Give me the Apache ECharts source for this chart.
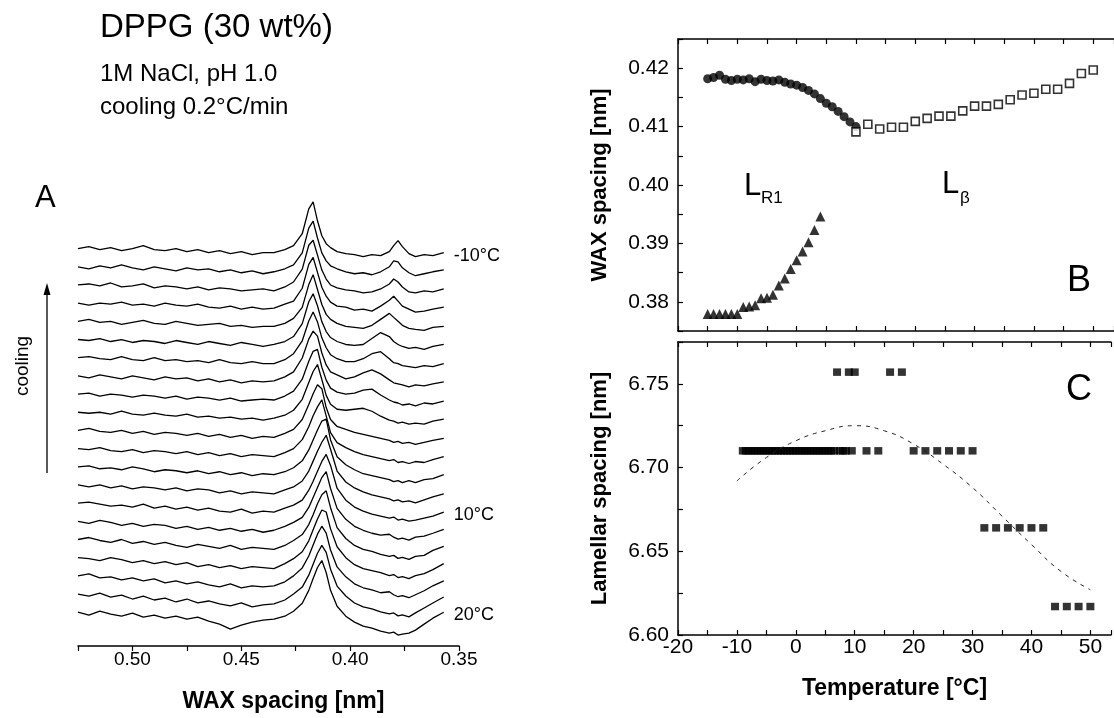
<!DOCTYPE html>
<html>
<head>
<meta charset="utf-8">
<title>DPPG (30 wt%)</title>
<script src="https://cdn.jsdelivr.net/npm/echarts@6/dist/echarts.min.js"></script>
<style>
  html, body { margin: 0; padding: 0; background: #fff; }
  #main { width: 1114px; height: 718px; }
</style>
</head>
<body>
<div id="main"></div>
<script>
const FONT = '"Liberation Sans", Arial, Helvetica, sans-serif';

// ---- panel A: WAXS traces (intensity above each trace's baseline, arbitrary units)
const waxSpacing = [0.525, 0.52, 0.515, 0.51, 0.505, 0.5, 0.495, 0.49, 0.485, 0.48,
  0.475, 0.47, 0.465, 0.46, 0.455, 0.45, 0.445, 0.44, 0.435, 0.43,
  0.426, 0.422, 0.419, 0.417, 0.415, 0.413, 0.411, 0.409, 0.406, 0.402,
  0.398, 0.394, 0.39, 0.386, 0.382, 0.38, 0.378, 0.376, 0.373, 0.37,
  0.366, 0.362, 0.357];

const traceLabels = ['-10°C', '', '', '', '', '', '', '', '', '', '', '', '', '',
  '10°C', '', '', '', '', '', '20°C'];

const traceProfiles = [
  [0, 2, -1, 1, -2, 0, 3, -1, -2, 0, -3, -1, -4, -2, -5, -3, -6, -4, -4, -1, 3, 15, 40, 47, 28, 13, 5, 1, -3, -5, -6, -8, -6, -7, -3, 3, 8, 2, -5, -8, -6, -7, -4],
  [0, -2, 1, -1, 2, -1, -3, 0, -2, -4, -1, -3, -2, -5, -3, -6, -4, -7, -5, -2, 2, 14, 39, 46, 29, 14, 6, 1, -2, -5, -7, -6, -8, -5, 0, 6, 5, -1, -6, -9, -7, -5, -3],
  [0, 1, -1, 2, -2, -1, 1, -3, -1, -2, -4, -2, -5, -3, -4, -6, -5, -4, -6, -2, 3, 16, 40, 45, 30, 15, 6, 0, -3, -5, -6, -8, -7, -4, 1, 6, 3, -2, -7, -8, -6, -7, -4],
  [0, -2, 0, -1, 1, -2, -1, -3, 0, -2, -3, -1, -4, -5, -3, -6, -4, -6, -5, -1, 2, 15, 39, 46, 31, 16, 7, 1, -3, -4, -7, -6, -8, -3, 3, 7, 2, -3, -6, -9, -8, -6, -4],
  [0, 2, -1, 0, -3, -1, 1, -2, -3, 0, -2, -4, -3, -2, -5, -4, -6, -5, -5, -2, 3, 14, 37, 47, 32, 17, 7, 2, -2, -5, -6, -7, -4, 2, 8, 4, 0, -4, -7, -8, -9, -6, -5],
  [0, -1, 1, -2, 0, -3, -1, -2, -4, -1, -3, -5, -2, -4, -6, -3, -5, -7, -5, -2, 3, 16, 38, 46, 34, 18, 8, 2, -2, -5, -6, -5, 1, 7, 3, -2, -5, -7, -9, -8, -10, -7, -5],
  [0, 1, -1, -2, 1, -2, -3, 0, -3, -2, -4, -3, -5, -2, -5, -6, -4, -6, -6, -2, 4, 17, 37, 46, 36, 20, 10, 3, -1, -4, -4, -1, 4, 6, -1, -5, -6, -8, -9, -10, -8, -9, -6],
  [0, -2, 1, -1, -3, 0, -2, -4, -1, -3, -2, -5, -3, -6, -4, -7, -5, -6, -5, -1, 4, 18, 37, 45, 40, 23, 11, 4, 1, -3, -1, 3, 6, 2, -4, -7, -8, -9, -11, -9, -10, -8, -6],
  [0, 1, -2, 0, -1, -3, -1, -2, -4, -2, -5, -3, -4, -6, -4, -7, -6, -5, -6, -2, 3, 15, 33, 43, 45, 27, 14, 6, 2, 0, 1, 4, 5, -1, -6, -8, -9, -11, -10, -12, -9, -10, -7],
  [0, -1, 0, -2, 1, -2, -3, -1, -3, -4, -2, -5, -4, -6, -5, -7, -6, -8, -6, -3, 2, 13, 30, 41, 48, 33, 17, 8, 3, 2, 3, 4, 1, -4, -8, -9, -11, -10, -12, -11, -12, -9, -7],
  [0, 2, -1, -2, 0, -3, -1, -4, -2, -3, -5, -3, -6, -4, -7, -5, -8, -6, -7, -3, 1, 11, 26, 37, 46, 42, 23, 11, 4, 1, -2, -4, -6, -8, -10, -12, -11, -13, -12, -14, -12, -10, -8],
  [0, -1, 1, -2, -3, -1, -4, -2, -3, -5, -3, -6, -4, -7, -5, -8, -6, -7, -8, -4, 0, 9, 22, 33, 42, 49, 33, 16, 6, 1, -3, -6, -8, -10, -12, -11, -14, -13, -15, -13, -14, -11, -8],
  [0, 1, -2, -1, -3, 0, -2, -5, -3, -4, -6, -4, -7, -5, -8, -6, -9, -7, -8, -5, -1, 6, 17, 27, 37, 46, 48, 27, 10, 2, -3, -7, -9, -11, -13, -15, -14, -16, -14, -16, -13, -12, -8],
  [0, -2, 0, -3, -1, -4, -2, -3, -5, -3, -6, -4, -5, -8, -6, -9, -7, -8, -9, -5, -2, 4, 14, 24, 34, 43, 50, 36, 14, 3, -3, -7, -10, -12, -14, -16, -15, -17, -16, -18, -15, -12, -9],
  [0, 1, -1, -3, -2, -4, -1, -5, -3, -6, -4, -7, -5, -8, -9, -6, -10, -8, -9, -5, -2, 3, 13, 22, 32, 42, 49, 38, 15, 3, -4, -8, -11, -13, -15, -14, -17, -16, -18, -17, -15, -13, -9],
  [0, -2, 1, -1, -4, -2, -5, -3, -4, -7, -5, -8, -6, -9, -7, -10, -8, -11, -9, -5, -1, 4, 14, 24, 34, 44, 50, 33, 13, 2, -5, -9, -12, -14, -13, -16, -18, -17, -19, -16, -15, -12, -8],
  [0, 2, -1, -3, 0, -4, -2, -5, -3, -6, -8, -5, -7, -9, -6, -10, -8, -9, -10, -6, -1, 5, 15, 25, 36, 45, 49, 32, 12, 1, -6, -10, -12, -15, -17, -16, -19, -18, -20, -17, -16, -11, -7],
  [0, -1, -3, 0, -2, -5, -3, -6, -4, -7, -5, -9, -7, -10, -8, -11, -9, -10, -11, -6, -1, 6, 17, 28, 39, 48, 46, 29, 11, 0, -7, -11, -13, -15, -18, -17, -20, -19, -21, -18, -16, -12, -6],
  [0, 2, -2, -1, -4, -2, -5, -3, -7, -5, -8, -6, -9, -11, -8, -12, -10, -11, -10, -6, 0, 8, 20, 31, 42, 50, 43, 26, 9, -1, -8, -12, -14, -17, -16, -19, -21, -20, -22, -19, -15, -10, -5],
  [0, -2, 1, -3, -1, -5, -2, -6, -4, -8, -5, -9, -7, -10, -12, -9, -13, -11, -10, -6, 0, 7, 19, 30, 41, 49, 42, 25, 8, -2, -9, -13, -15, -18, -20, -19, -22, -21, -23, -19, -14, -9, -3],
  [0, -3, 1, -2, -4, -1, -5, -3, -6, -4, -7, -5, -9, -12, -17, -13, -10, -8, -7, -4, 1, 9, 22, 34, 45, 52, 40, 22, 6, -4, -10, -14, -16, -19, -21, -20, -23, -22, -21, -18, -12, -6, 0]
];

// ---- panel B: WAX spacing vs temperature
const circleTemps = [-15, -14, -13, -12, -11, -10, -9, -8, -7, -6, -5, -4, -3, -2, -1, 0, 1, 2, 3, 4, 5, 6, 7, 8, 9, 10];
const circleSpacing = [0.4182, 0.4184, 0.4188, 0.4181, 0.4179, 0.4181, 0.4180, 0.4182, 0.4177, 0.4181, 0.4179, 0.4178, 0.4180,
  0.4176, 0.4173, 0.4171, 0.4167, 0.4162, 0.4156, 0.4148, 0.4140, 0.4134, 0.4126, 0.4117, 0.4108, 0.4100];

const triangleTemps = [-15, -14, -13, -12, -11, -10, -9, -8, -7, -6, -5, -4, -3, -2, -1, 0, 1, 2, 3, 4];
const triangleSpacing = [0.3779, 0.3779, 0.3779, 0.3779, 0.3779, 0.3779, 0.3791, 0.3792, 0.3794, 0.3806,
  0.3807, 0.3812, 0.3828, 0.3840, 0.3856, 0.3871, 0.3886, 0.3902, 0.3923, 0.3946];

const squareTemps = [10, 12, 14, 16, 18, 20, 22, 24, 26, 28, 30, 32, 34, 36, 38, 40, 42, 44, 46, 48, 50];
const squareSpacing = [0.4091, 0.4104, 0.4096, 0.4099, 0.4099, 0.4109, 0.4114, 0.4118, 0.4118, 0.4127, 0.4135,
  0.4135, 0.4138, 0.4146, 0.4154, 0.4157, 0.4164, 0.4164, 0.4174, 0.4191, 0.4197];

// ---- panel C: lamellar spacing vs temperature
const lamTemps = [-9, -8.5, -8, -7.5, -7, -6.5, -6, -5.5, -5, -4.5, -4, -3.5, -3, -2.5, -2, -1.5, -1, -0.5,
  0, 0.5, 1, 1.5, 2, 2.5, 3, 3.5, 4, 4.5, 5, 5.5, 6, 6.5, 7, 7.5, 8, 8.5, 9, 9.5, 10,
  12, 14, 16, 18, 20, 22, 24, 26, 28, 30, 32, 34, 36, 38, 40, 42, 44, 46, 48, 50];
const lamSpacing = [6.710, 6.710, 6.710, 6.710, 6.710, 6.710, 6.710, 6.710, 6.710, 6.710, 6.710, 6.710, 6.710, 6.710,
  6.710, 6.710, 6.710, 6.710, 6.710, 6.710, 6.710, 6.710, 6.710, 6.710, 6.710, 6.710, 6.710, 6.710, 6.710, 6.710,
  6.710, 6.710, 6.757, 6.710, 6.710, 6.710, 6.757, 6.710, 6.757,
  6.710, 6.710, 6.757, 6.757, 6.710, 6.710, 6.710, 6.710, 6.710, 6.710,
  6.664, 6.664, 6.664, 6.664, 6.664, 6.664, 6.617, 6.617, 6.617, 6.617];

const fitTemps = [-10, -5, 0, 5, 10, 15, 20, 25, 30, 35, 40, 45, 50];
const fitSpacing = [6.692, 6.706, 6.716, 6.722, 6.725, 6.722, 6.714, 6.702, 6.688, 6.671, 6.654, 6.638, 6.627];

// ---- helpers
const pairs = (xs, ys) => xs.map((x, k) => [x, ys[k]]);
const onStep = (step, digits) => (v) => {
  const r = v / step;
  return Math.abs(r - Math.round(r)) < 1e-6 ? v.toFixed(digits) : '';
};
const txt = (size, weight) => ({ color: '#000', fontFamily: FONT, fontSize: size, fontWeight: weight || 'normal' });
const label = (x, y, text, size, extra) => ({
  type: 'text', x: x, y: y,
  style: Object.assign({ text: text, align: 'left', verticalAlign: 'middle', fill: '#000', font: size + 'px ' + FONT }, extra)
});

const frame = (extra) => Object.assign({
  axisLine: { show: true, onZero: false, lineStyle: { color: '#000', width: 1.5 } },
  axisTick: { show: true, inside: true, length: 5, lineStyle: { color: '#000', width: 1.2 } },
  splitLine: { show: false }
}, extra);

const traceGap = 18.3, traceBase = 34;
const nTraces = traceProfiles.length;
const traceData = traceProfiles.map((prof, i) =>
  waxSpacing.map((d, k) => [d, traceBase + (nTraces - 1 - i) * traceGap + prof[k]]));

const traceSeries = traceData.map((data) => ({
  type: 'line',
  xAxisIndex: 0, yAxisIndex: 0,
  symbol: 'none', silent: true,
  lineStyle: { color: '#000', width: 1.3 },
  data: data
}));

const chart = echarts.init(document.getElementById('main'));
chart.setOption({
  animation: false,
  backgroundColor: '#fff',
  grid: [
    { left: 78, right: 655, top: 190, bottom: 69 },
    { left: 678, right: 0, top: 39, height: 292 },
    { left: 678, right: 0, top: 342, height: 293 }
  ],
  xAxis: [
    frame({
      gridIndex: 0, type: 'value', inverse: true, min: 0.35, max: 0.525, interval: 0.025,
      axisTick: { show: true, inside: false, length: 5, lineStyle: { color: '#000', width: 1.2 } },
      axisLabel: { margin: 4, formatter: onStep(0.05, 2), ...txt(19) },
      name: 'WAX spacing [nm]', nameLocation: 'middle', nameGap: 44,
      nameTextStyle: { ...txt(23, 'bold'), padding: [0, 0, 0, 30] }
    }),
    frame({ gridIndex: 1, type: 'value', min: -20, max: 53.5, interval: 5, axisLabel: { show: false } }),
    frame({ gridIndex: 1, type: 'value', position: 'top', min: -20, max: 53.5, interval: 5, axisLabel: { show: false } }),
    frame({
      gridIndex: 2, type: 'value', min: -20, max: 53.5, interval: 5,
      axisLabel: { margin: 2, formatter: (v) => (v % 10 === 0 ? String(v) : ''), ...txt(21) },
      name: 'Temperature [°C]', nameLocation: 'middle', nameGap: 42,
      nameTextStyle: txt(23, 'bold')
    }),
    frame({ gridIndex: 2, type: 'value', position: 'top', min: -20, max: 53.5, interval: 5, axisLabel: { show: false } })
  ],
  yAxis: [
    { gridIndex: 0, type: 'value', min: 0, max: 459, show: false },
    frame({
      gridIndex: 1, type: 'value', min: 0.375, max: 0.425, interval: 0.005,
      axisLabel: { margin: 9, formatter: onStep(0.01, 2), ...txt(21) },
      name: 'WAX spacing [nm]', nameLocation: 'middle', nameGap: 67,
      nameTextStyle: txt(22, 'bold')
    }),
    frame({
      gridIndex: 2, type: 'value', min: 6.6, max: 6.775, interval: 0.025,
      axisLabel: { margin: 9, formatter: onStep(0.05, 2), ...txt(21) },
      name: 'Lamellar spacing [nm]', nameLocation: 'middle', nameGap: 67,
      nameTextStyle: txt(22, 'bold')
    })
  ],
  series: traceSeries.concat([
    {
      type: 'scatter', xAxisIndex: 1, yAxisIndex: 1, symbol: 'circle', symbolSize: 9,
      itemStyle: { color: '#000' }, data: pairs(circleTemps, circleSpacing)
    },
    {
      type: 'scatter', xAxisIndex: 1, yAxisIndex: 1, symbol: 'triangle', symbolSize: 10,
      itemStyle: { color: '#000' }, data: pairs(triangleTemps, triangleSpacing)
    },
    {
      type: 'scatter', xAxisIndex: 1, yAxisIndex: 1, symbol: 'rect', symbolSize: 8,
      itemStyle: { color: '#fff', borderColor: '#000', borderWidth: 1.6 }, data: pairs(squareTemps, squareSpacing)
    },
    {
      type: 'line', xAxisIndex: 3, yAxisIndex: 2, symbol: 'none', smooth: true, silent: true,
      lineStyle: { color: '#222', width: 1, type: [4, 5] }, data: pairs(fitTemps, fitSpacing)
    },
    {
      type: 'scatter', xAxisIndex: 3, yAxisIndex: 2, symbol: 'rect', symbolSize: [8, 7.5],
      itemStyle: { color: '#000' }, data: pairs(lamTemps, lamSpacing)
    }
  ]),
  graphic: [
    label(100, 28, 'DPPG (30 wt%)', 33),
    label(100, 74, '1M NaCl, pH 1.0', 24),
    label(100, 107, 'cooling 0.2°C/min', 24),
    label(35, 198, 'A', 31),
    { type: 'text', x: 23, y: 366, rotation: Math.PI / 2,
      style: { text: 'cooling', align: 'center', verticalAlign: 'middle', fill: '#000', font: '19px ' + FONT } },
    { type: 'line', shape: { x1: 47, y1: 473, x2: 47, y2: 292 }, style: { stroke: '#000', lineWidth: 1.3 } },
    { type: 'polygon', shape: { points: [[47, 283], [43.5, 295], [50.5, 295]] }, style: { fill: '#000' } },
    label(744, 186, 'L', 31),
    label(761, 198, 'R1', 17),
    label(942, 184, 'L', 31),
    label(960, 198, 'β', 17),
    label(1067, 281, 'B', 36),
    label(1066, 390, 'C', 36)
  ]
});

// temperature tags at the right-hand end of the labelled traces
const tagGraphics = [];
traceLabels.forEach((t, i) => {
  if (!t) return;
  const last = traceData[i][traceData[i].length - 1];
  const p = chart.convertToPixel({ xAxisIndex: 0, yAxisIndex: 0 }, last);
  tagGraphics.push(label(p[0] + 10, p[1] + 3, t, 18));
});
chart.setOption({ graphic: tagGraphics.map((g, k) => Object.assign({ id: 'tag' + k }, g)) });
</script>
</body>
</html>
